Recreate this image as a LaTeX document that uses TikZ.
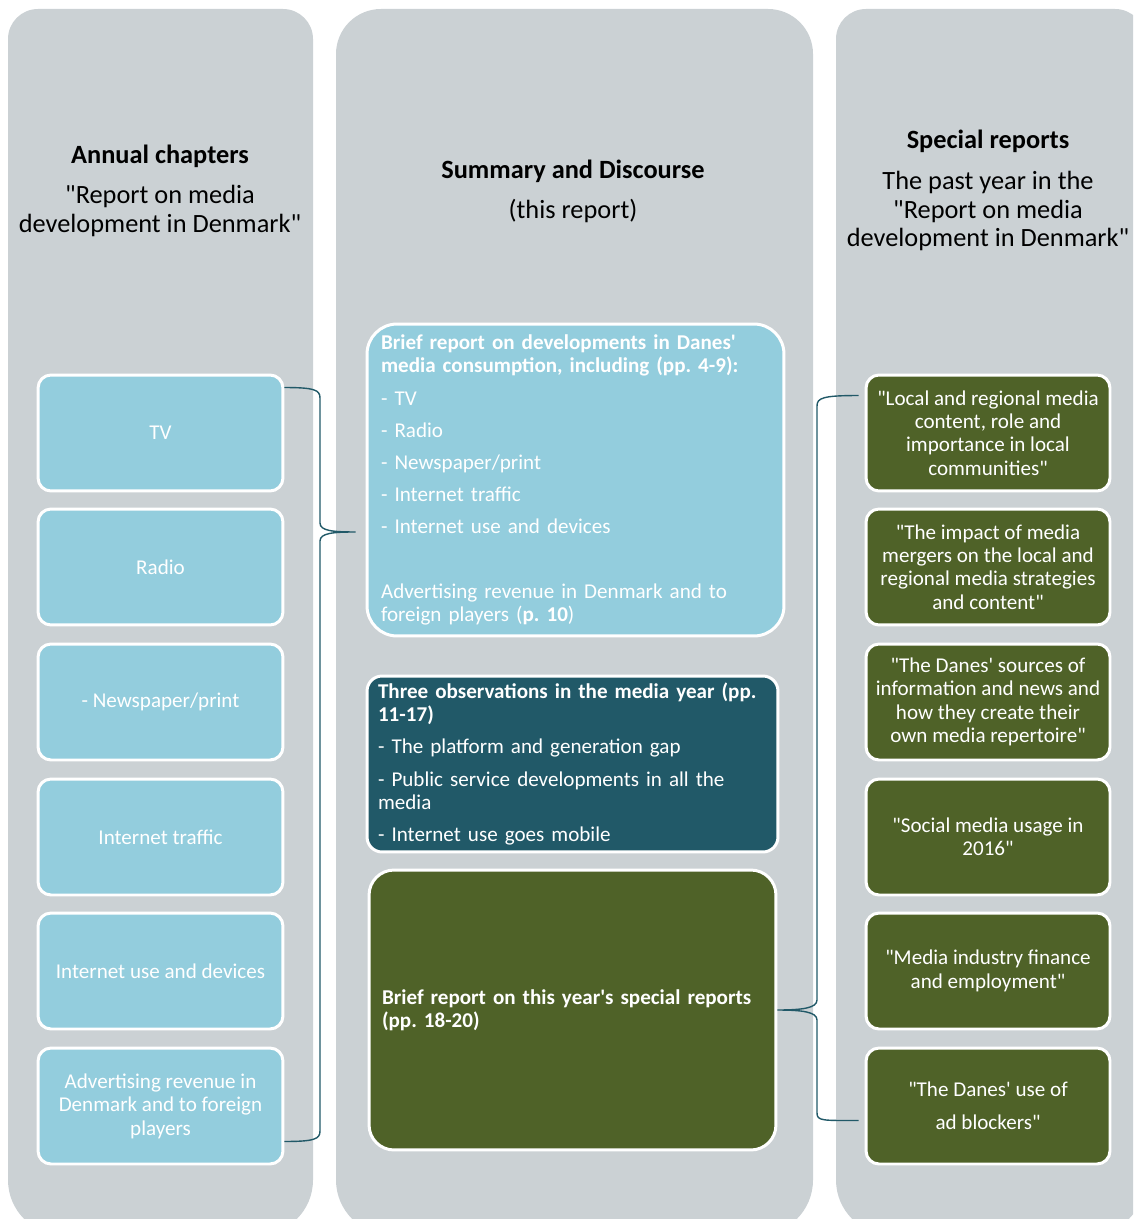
\documentclass[tikz,border=0pt]{standalone}
\usepackage{fontspec}
\setmainfont{Carlito}[Ligatures=TeXOff]
\usetikzlibrary{positioning}
\definecolor{colgray}{HTML}{CBD1D4}
\definecolor{lightblue}{HTML}{93CDDD}
\definecolor{darkteal}{HTML}{215968}
\definecolor{olive}{HTML}{4F6228}
\newcommand{\apo}{\textquotesingle}
\frenchspacing
\tikzset{
  chapbox/.style={fill=lightblue, draw=white, line width=1.7pt, rounded corners=0.26cm,
    minimum width=4.9cm, minimum height=2.32cm, text=white, align=center,
    font=\fontsize{12}{13.3}\selectfont},
  specbox/.style={chapbox, fill=olive, minimum width=4.88cm},
  midbox/.style={draw=white, line width=1.7pt, text=white, align=left,
    font=\fontsize{12}{13.3}\selectfont},
  coltitle/.style={font=\fontsize{15}{16.4}\selectfont\bfseries},
  colsub/.style={align=center, font=\fontsize{15}{16.4}\selectfont},
  brace/.style={draw=darkteal, line width=0.8pt},
}

\begin{document}
\begin{tikzpicture}[x=0.02cm, y=-0.02cm]
        \useasboundingbox (0,0) rectangle (1133,1219);
        \clip (0,0) rectangle (1133,1219);

        % the three columns
        \fill[colgray] (8,600) [rounded corners=0.6cm] -- (8,9) -- (313,9) [rounded corners=1.1cm]
          -- (313,1235) -- (8,1235) [sharp corners] -- cycle;
        \fill[colgray] (336,600) [rounded corners=0.9cm] -- (336,9) -- (813,9) [rounded corners=1.1cm]
          -- (813,1235) -- (336,1235) [sharp corners] -- cycle;
        \fill[colgray] (836,600) [rounded corners=0.6cm] -- (836,9) -- (1145,9) [rounded corners=1.1cm]
          -- (1145,1235) -- (836,1235) [sharp corners] -- cycle;

        \node[coltitle] (ltitle) at (160,156) {Annual chapters};
        \node[colsub] (lsub) at (160,211) {"Report on media\\development in Denmark"};
        \node[coltitle] (mtitle) at (573,171) {Summary and Discourse};
        \node[colsub] (msub) at (573,211) {(this report)};
        \node[coltitle] (rtitle) at (988,141) {Special reports};
        \node[colsub] (rsub) at (988,211) {The past year in the\\"Report on media\\development in Denmark"};

        % annual chapters
        \node[chapbox] (ltv) at (160.5,433) {TV};
        \node[chapbox] (lradio) at (160.5,567) {Radio};
        \node[chapbox] (lprint) at (160.5,702) {- Newspaper/print};
        \node[chapbox] (ltraffic) at (160.5,837) {Internet traffic};
        \node[chapbox] (ldevices) at (160.5,971) {Internet use and devices};
        \node[chapbox] (lads) at (160.5,1106) {Advertising revenue in\\Denmark and to foreign\\players};

        % summary
        \node[midbox, fill=lightblue, rounded corners=0.6cm, minimum width=8.34cm, minimum height=6.24cm,
          inner xsep=0.28cm, text width=7.78cm] (mbrief) at (575.5,480)
          {{\bfseries Brief report on developments in Danes\apo\\media consumption, including (pp. 4-9):}\\[5pt]
           - TV\\[5pt]
           - Radio\\[5pt]
           - Newspaper/print\\[5pt]
           - Internet traffic\\[5pt]
           - Internet use and devices\\[23.5pt]
           Advertising revenue in Denmark and to\\foreign players ({\bfseries p. 10})};
        \node[midbox, fill=darkteal, rounded corners=0.3cm, minimum width=8.22cm, minimum height=3.52cm,
          inner xsep=0.22cm, text width=7.78cm] (mobs) at (572.5,764)
          {{\bfseries Three observations in the media year (pp.\\11-17)}\\[5pt]
           - The platform and generation gap\\[5pt]
           - Public service developments in all the\\media\\[5pt]
           - Internet use goes mobile};
        \node[midbox, fill=olive, rounded corners=0.5cm, minimum width=8.14cm, minimum height=5.6cm,
          inner xsep=0.26cm, text width=7.62cm, font=\fontsize{12}{13.3}\selectfont\bfseries] (mspecial) at (572.5,1010)
          {Brief report on this year\apo s special reports\\(pp. 18-20)};

        % special reports
        \node[specbox] (rlocal) at (988,433) {"Local and regional media\\content, role and\\importance in local\\communities"};
        \node[specbox] (rmergers) at (988,567) {"The impact of media\\mergers on the local and\\regional media strategies\\and content"};
        \node[specbox] (rsources) at (988,702) {"The Danes\apo\ sources of\\information and news and\\how they create their\\own media repertoire"};
        \node[specbox] (rsocial) at (988,837) {"Social media usage in\\2016"};
        \node[specbox] (rfinance) at (988,971) {"Media industry finance\\and employment"};
        \node[specbox] (rblock) at (988,1106) {"The Danes\apo\ use of\\[5.4pt]ad blockers"};

        % braces
        \coordinate (lbtop) at ([yshift=-0.28cm]ltv.north east);
        \coordinate (lbbot) at ([yshift=0.48cm]lads.south east);
        \coordinate (lbtip) at ([xshift=-0.2cm,yshift=-1.04cm]mbrief.west);
        \draw[brace] (lbtop) .. controls +(30,0) and +(0,-8) .. (320,398) -- (320,523)
          .. controls +(0,8) and +(-22,0) .. (lbtip) .. controls +(-22,0) and +(0,-8) .. (320,541)
          -- (320,1131) .. controls +(0,8) and +(30,0) .. (lbbot);

        \coordinate (rbtop) at ([xshift=-0.12cm,yshift=-0.44cm]rlocal.north west);
        \coordinate (rbbot) at ([xshift=-0.12cm,yshift=-1.48cm]rblock.north west);
        \coordinate (rbtip) at (mspecial.east);
        \draw[brace] (rbtop) .. controls +(-36,0) and +(0,-8) .. (817,406) -- (817,1000)
          .. controls +(0,8) and +(25,0) .. (rbtip) .. controls +(25,0) and +(0,-8) .. (817,1020)
          -- (817,1113) .. controls +(0,8) and +(-36,0) .. (rbbot);

    \end{tikzpicture}
\end{document}
